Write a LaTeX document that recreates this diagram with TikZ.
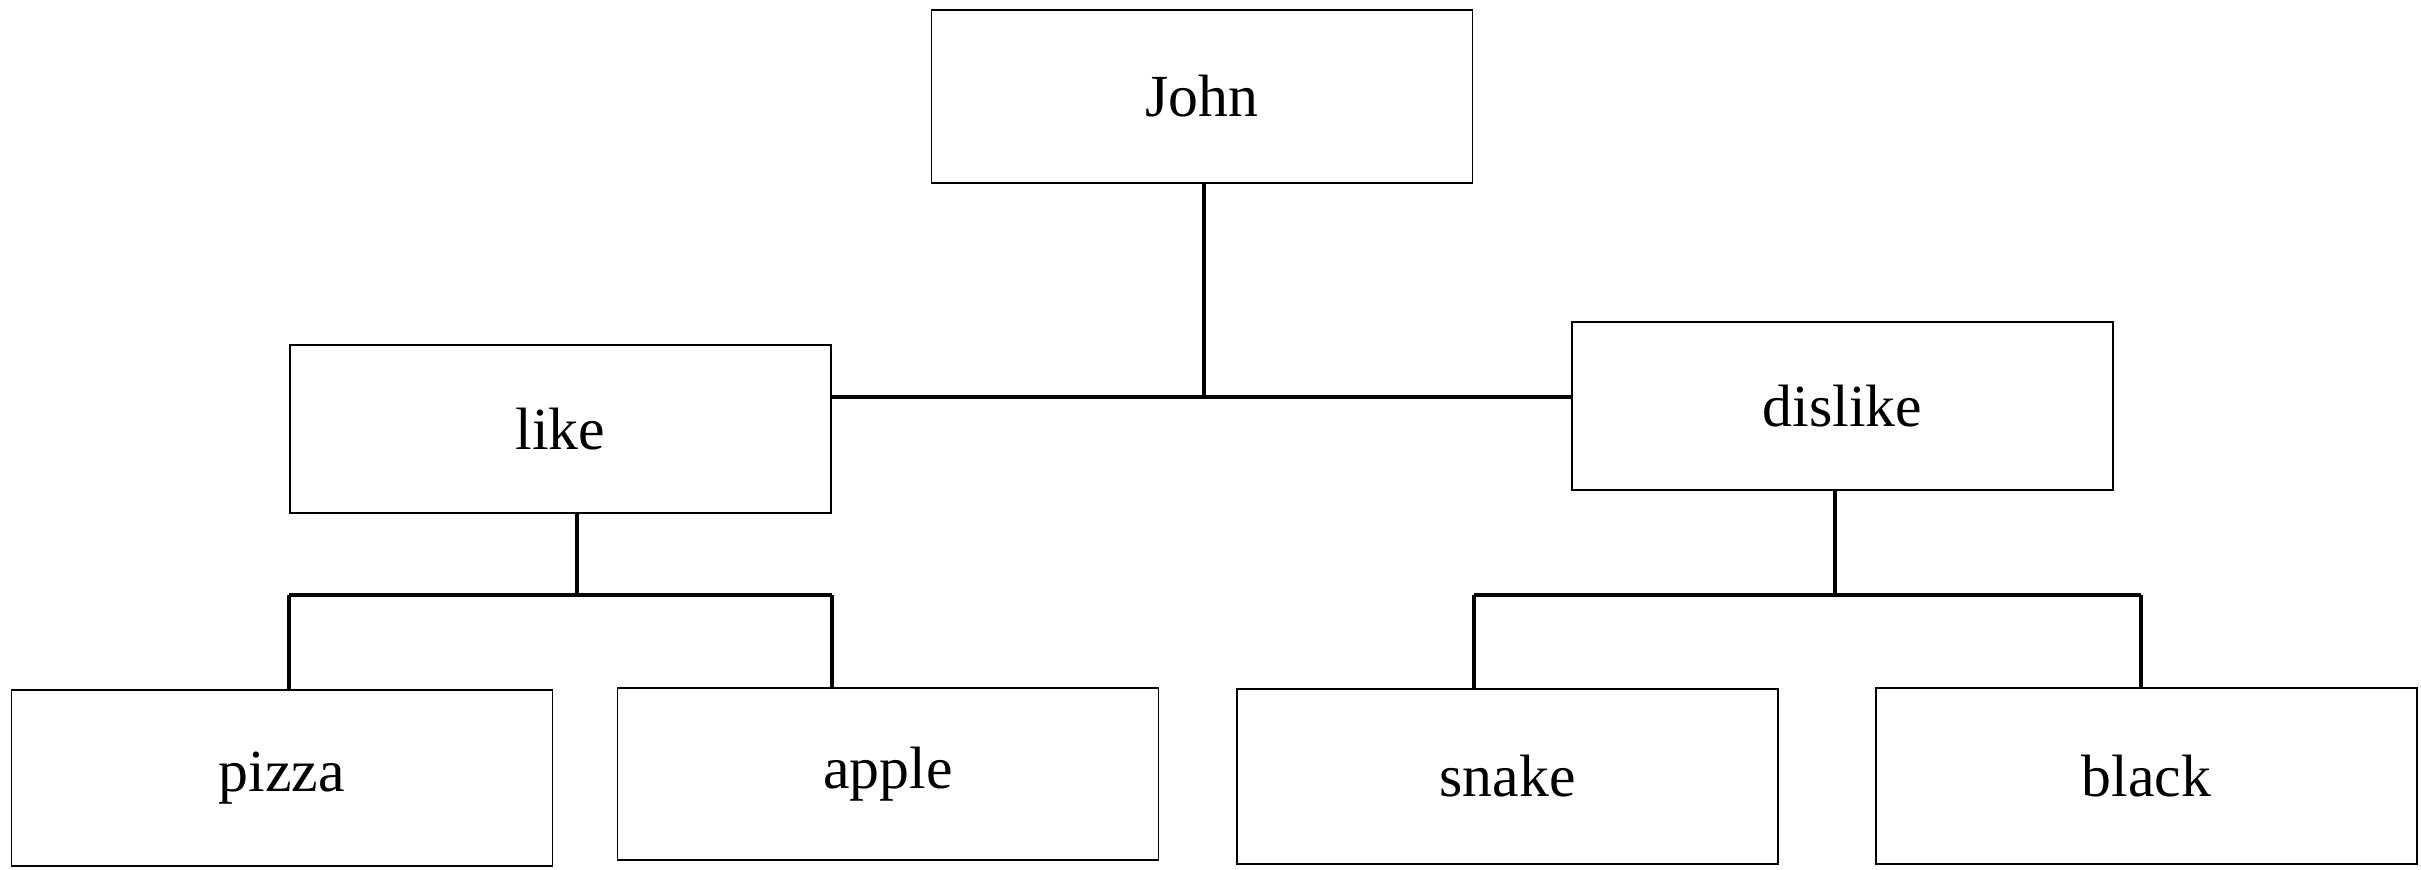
\documentclass[tikz,border=0pt]{standalone}
\usepackage{fontspec}
\setmainfont{Liberation Serif}
\usetikzlibrary{positioning, calc}

\begin{document}
\begin{tikzpicture}[
    wordbox/.style={draw, line width=0.5pt, minimum width=5.41cm, minimum height=1.7cm, inner sep=0pt, font=\fontsize{17}{20}\selectfont},
    branch/.style={line width=1pt}
]
    \useasboundingbox (0,0) rectangle (24.21,8.70);

    % Root
    \node[wordbox, minimum height=1.73cm] (john) at (12.02,7.735) {John};

    % Second level
    \node[wordbox, minimum height=1.68cm] (like) at (5.605,4.41) {like};
    \node[wordbox, minimum height=1.68cm] (dislike) at (18.425,4.64) {dislike};

    % Leaves
    \node[wordbox, minimum height=1.76cm] (pizza) at (2.82,0.92) {pizza};
    \node[wordbox, minimum height=1.72cm] (apple) at (8.88,0.96) {apple};
    \node[wordbox, minimum height=1.75cm] (snake) at (15.075,0.935) {snake};
    \node[wordbox, minimum height=1.76cm] (black) at (21.465,0.94) {black};

    % John -> like / dislike
    \coordinate (johnjoin) at (12.04,4.73);
    \draw[branch] (john.south -| johnjoin) -- (johnjoin);
    \draw[branch] (like.east |- johnjoin) -- (dislike.west |- johnjoin);

    % like -> pizza / apple
    \coordinate (likejoin) at (5.77,2.75);
    \draw[branch] (like.south -| likejoin) -- (likejoin);
    \draw[branch] (like.west |- likejoin) -- (like.east |- likejoin);
    \draw[branch] (like.west |- likejoin) -- (like.west |- pizza.north);
    \draw[branch] (like.east |- likejoin) -- (like.east |- apple.north);

    % dislike -> snake / black
    \coordinate (dislikejoin) at (18.35,2.75);
    \coordinate (snakedrop) at (14.74,2.75);
    \coordinate (blackdrop) at (21.41,2.75);
    \draw[branch] (dislike.south -| dislikejoin) -- (dislikejoin);
    \draw[branch] (snakedrop) -- (blackdrop);
    \draw[branch] (snakedrop) -- (snakedrop |- snake.north);
    \draw[branch] (blackdrop) -- (blackdrop |- black.north);
\end{tikzpicture}
\end{document}
